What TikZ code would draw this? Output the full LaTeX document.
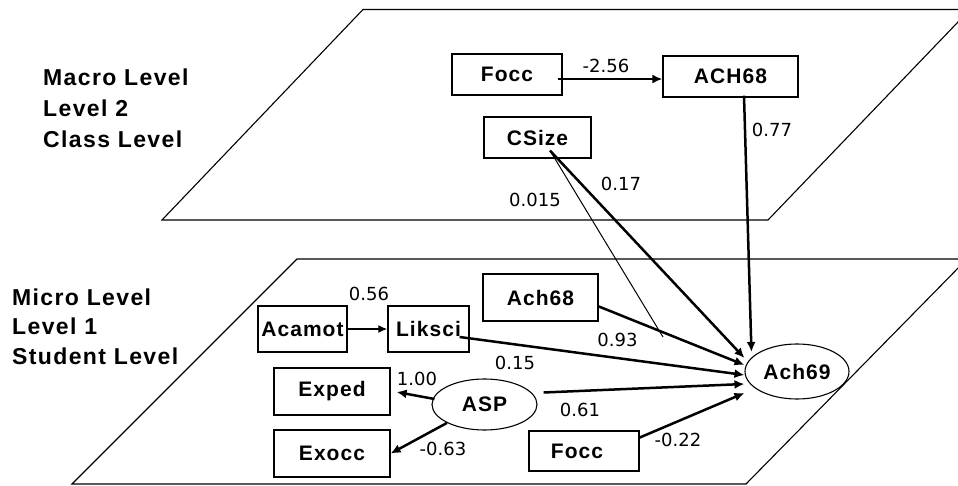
\documentclass[tikz,border=0pt]{standalone}
\usepackage{fontspec}
\setmainfont{Liberation Sans}
\newfontfamily\boxfont[LetterSpace=5]{Liberation Sans}
\newfontfamily\lvlfont[LetterSpace=6]{Liberation Sans}
\newfontfamily\numfont{DejaVu Sans}
\usetikzlibrary{arrows.meta,calc,shapes.geometric}
\begin{document}
\begin{tikzpicture}[x=1pt,y=-1pt,
  plane/.style={draw=black, line width=1.1pt},
  box/.style={draw, line width=1.2pt, fill=white, inner sep=0pt,
    font=\boxfont\bfseries\fontsize{21}{24}\selectfont},
  latent/.style={draw, ellipse, line width=1.1pt, fill=white, inner sep=0pt,
    font=\boxfont\bfseries\fontsize{21}{24}\selectfont},
  coef/.style={font=\numfont\fontsize{18}{20}\selectfont, inner sep=0pt},
  lvl/.style={anchor=west, align=left, inner sep=0pt},
  pathar/.style={line width=2.5pt, -{Latex[length=10pt,width=9pt]}},
  pathsm/.style={line width=2pt, -{Latex[length=9pt,width=8pt]}},
  thinline/.style={line width=1pt}]
\useasboundingbox (0,0) rectangle (958,486);
\begin{scope}
  \clip (0,0) rectangle (958,486);
  \draw[plane] (363,9.5) -- (970,9.5) -- (768,220) -- (162,220) -- cycle;
  \draw[plane] (297,259) -- (967,259) -- (746,484) -- (72,484) -- cycle;
\end{scope}

% level labels
\node[lvl, font=\lvlfont\bfseries\fontsize{23}{31}\selectfont] (macro) at (43,108)
  {Macro Level\\Level 2\\Class Level};
\node[lvl, font=\lvlfont\bfseries\fontsize{23}{29.5}\selectfont] (micro) at (12,326.5)
  {Micro Level\\Level 1\\Student Level};

% level 2 nodes
\node[box, minimum width=110pt, minimum height=41pt] (FoccT) at (507,74.5) {Focc};
\node[box, minimum width=135pt, minimum height=41pt] (ACH68) at (730.5,76.5) {ACH68};
\node[box, minimum width=107pt, minimum height=41pt] (CSize) at (537.5,137.5) {CSize};

% level 1 nodes
\node[box, minimum width=115pt, minimum height=47pt] (Ach68) at (540.5,297.5) {Ach68};
\node[box, minimum width=89pt, minimum height=46pt] (Acamot) at (302.5,329) {Acamot};
\node[box, minimum width=81pt, minimum height=46pt] (Liksci) at (428.5,329) {Liksci};
\node[box, minimum width=116pt, minimum height=47pt] (Exped) at (332,391.5) {Exped};
\node[box, minimum width=116pt, minimum height=47pt] (Exocc) at (332,453.5) {Exocc};
\node[box, minimum width=110pt, minimum height=40pt, text depth=0pt] (FoccL) at (584,451) {\hspace*{-14pt}Focc};
\node[latent, minimum width=104pt, minimum height=55pt] (Ach69) at (797,371.5) {Ach69};
\node[latent, minimum width=105pt, minimum height=51pt] (ASP) at (484.5,404.5) {ASP};

\coordinate (mod) at (663,337);

% connectors
\draw[pathar] ($(FoccT.east)+(-5,4.5)$) -- ($(ACH68.west)+(0,2.5)$);
\draw[pathar] ($(ACH68.south)+(13.5,-2)$) -- ($(Ach69.west)+(7,-19.5)$);
\draw[pathar] ($(CSize.south)+(12.5,-8)$) -- ($(Ach69.west)+(0,-13.5)$);
\draw[thinline] ($(CSize.south)+(12.5,-8)$) -- (mod);
\draw[pathar] ($(Ach68.east)+(-1,8.5)$) -- ($(Ach69.west)+(0,-6.5)$);
\draw[pathar] ($(Liksci.east)+(-10,8)$) -- ($(Ach69.west)+(0,3.5)$);
\draw[pathar] ($(ASP.east)+(6,-12)$) -- ($(Ach69.west)+(0,12.5)$);
\draw[pathar] ($(FoccL.east)+(-1,-13)$) -- ($(Ach69.west)+(0,21.5)$);
\draw[pathsm] (Acamot.east) -- (Liksci.west);
\draw[pathar] ($(ASP.west)+(3,-5.5)$) -- ($(Exped.east)+(6,0.5)$);
\draw[pathar] (ASP.south west) -- (Exocc.east);

% coefficients
\node[coef] (c1) at (606,66) {-2.56};
\node[coef] (c2) at (772,130) {0.77};
\node[coef] (c3) at (621,184) {0.17};
\node[coef] (c4) at (535,200) {0.015};
\node[coef] (c5) at (369,294) {0.56};
\node[coef] (c6) at (617.5,340) {0.93};
\node[coef] (c7) at (515,363) {0.15};
\node[coef] (c8) at (417,379) {1.00};
\node[coef] (c9) at (443,449) {-0.63};
\node[coef] (c10) at (580,410) {0.61};
\node[coef] (c11) at (678,440) {-0.22};
\end{tikzpicture}
\end{document}
